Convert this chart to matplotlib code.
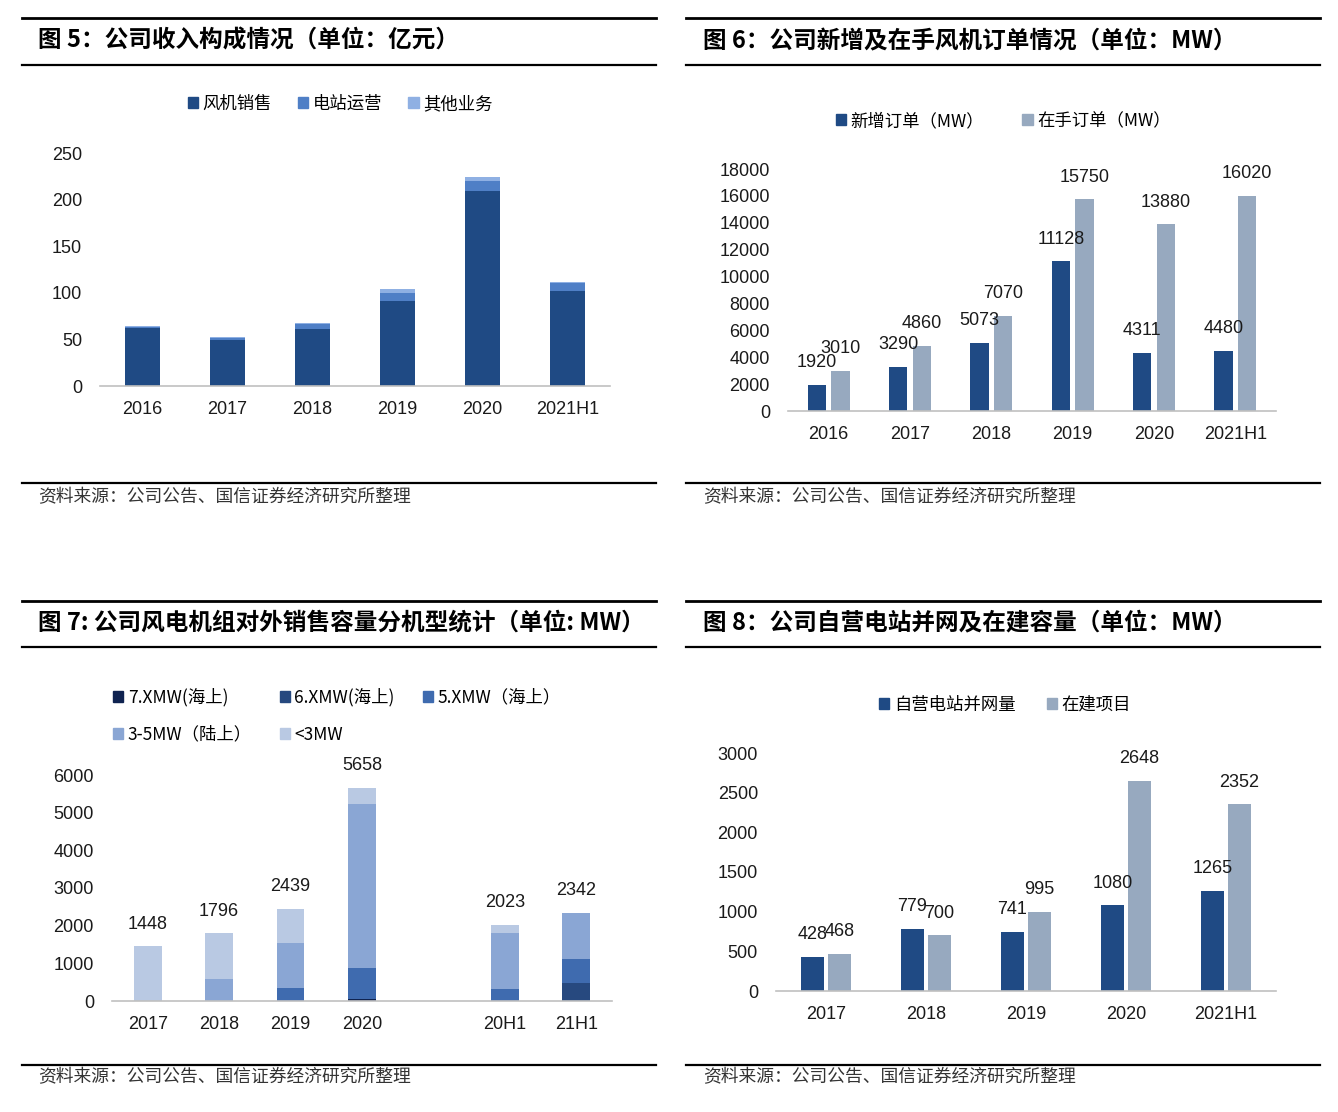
import numpy as np
import matplotlib
matplotlib.use("Agg")
import matplotlib.pyplot as plt
from matplotlib.lines import Line2D
from matplotlib.patches import Patch

plt.rcParams['font.family'] = ['Liberation Sans', 'Noto Sans CJK SC', 'DejaVu Sans']

# ---------------- data ----------------
# Fig 5
rev_years = ["2016", "2017", "2018", "2019", "2020", "2021H1"]
rev_turbine = [62.0, 49.5, 61.0, 91.4, 209.0, 101.4]
rev_station = [1.0, 1.5, 6.0, 8.2, 10.7, 9.0]
rev_other = [1.0, 1.3, 1.0, 4.7, 5.0, 0.7]
rev_labels = ["风机销售", "电站运营", "其他业务"]

# Fig 6
ord_years = ["2016", "2017", "2018", "2019", "2020", "2021H1"]
ord_new = [1920, 3290, 5073, 11128, 4311, 4480]
ord_hand = [3010, 4860, 7070, 15750, 13880, 16020]
ord_labels = ["新增订单（MW）", "在手订单（MW）"]

# Fig 7
cap_periods = ["2017", "2018", "2019", "2020", "20H1", "21H1"]
cap_7x = [0, 0, 0, 50, 0, 0]
cap_6x = [0, 0, 0, 0, 0, 471]
cap_5x = [0, 0, 356, 839, 311, 640]
cap_35 = [0, 578, 1182, 4329, 1493, 1231]
cap_lt3 = [1448, 1218, 901, 440, 219, 0]
cap_labels = ["7.XMW(海上)", "6.XMW(海上)", "5.XMW（海上）", "3-5MW（陆上）", "<3MW"]

# Fig 8
st_years = ["2017", "2018", "2019", "2020", "2021H1"]
st_grid = [428, 779, 741, 1080, 1265]
st_build = [468, 700, 995, 2648, 2352]
st_labels = ["自营电站并网量", "在建项目"]

titles = ["图 5：公司收入构成情况（单位：亿元）",
          "图 6：公司新增及在手风机订单情况（单位：MW）",
          "图 7: 公司风电机组对外销售容量分机型统计（单位: MW）",
          "图 8：公司自营电站并网及在建容量（单位：MW）"]
source = "资料来源：公司公告、国信证券经济研究所整理"

# ---------------- figure ----------------
W, H = 1338, 1112
fig = plt.figure(figsize=(W / 100, H / 100), dpi=100)
fig.patch.set_facecolor("white")

def fx(px):
    return px / W

def fy(py):
    return 1 - py / H

def hline(x0, x1, y, lw=1.6):
    fig.add_artist(Line2D([fx(x0), fx(x1)], [fy(y), fy(y)], color="black", lw=lw,
                          transform=fig.transFigure))

# headers / footers
for (x0, x1), (yt, yb, ys) in [
    ((22, 656), (18, 65, 483)),
    ((686, 1320), (18, 65, 483)),
    ((22, 656), (601, 647, 1065)),
    ((686, 1320), (601, 647, 1065)),
]:
    hline(x0, x1, yt, 2.0)
    hline(x0, x1, yb, 1.6)
    hline(x0, x1, ys, 1.6)

title_pos = [(38, 41), (703, 41), (38, 622), (703, 622)]
for t, (x, y) in zip(titles, title_pos):
    fig.text(fx(x), fy(y), t, fontsize=17, fontweight="heavy", va="center", ha="left",
             family=['Noto Sans CJK SC', 'DejaVu Sans'], color="black")
for (x, y) in [(38, 497), (703, 497), (38, 1077), (703, 1077)]:
    fig.text(fx(x), fy(y), source, fontsize=12.8, va="center", ha="left",
             family=['Noto Sans CJK SC', 'DejaVu Sans'], color="#333333")

def make_ax(x0, x1, y0px, ytop):
    ax = fig.add_axes([fx(x0), fy(y0px), (x1 - x0) / W, (y0px - ytop) / H])
    ax.set_facecolor("none")
    for s in ["top", "right", "left"]:
        ax.spines[s].set_visible(False)
    ax.spines["bottom"].set_color("#c0c0c0")
    ax.spines["bottom"].set_linewidth(1.2)
    ax.tick_params(axis="both", length=0, labelsize=13, colors="#1a1a1a")
    ax.tick_params(axis="x", pad=11)
    ax.tick_params(axis="y", pad=13)
    return ax

def bar_labels(ax, xs, vals):
    for x, v in zip(xs, vals):
        ax.annotate(f"{v:g}", (x, v), xytext=(0, 16), textcoords="offset points",
                    ha="center", va="center", fontsize=13, color="#1a1a1a")

leg_kw = dict(frameon=False, handlelength=0.6, handleheight=0.6,
              handletextpad=0.25, prop={'family': ['Noto Sans CJK SC', 'DejaVu Sans'], 'size': 12.5})

# ---------- Fig 5 ----------
ax5 = make_ax(100, 610, 386, 153)
x = np.arange(len(rev_years))
c5 = ["#1F4A84", "#4F7FC6", "#8FB0E3"]
b1 = np.array(rev_turbine)
b2 = np.array(rev_station)
b3 = np.array(rev_other)
ax5.bar(x, b1, 0.41, color=c5[0])
ax5.bar(x, b2, 0.41, bottom=b1, color=c5[1])
ax5.bar(x, b3, 0.41, bottom=b1 + b2, color=c5[2])
ax5.set_xlim(-0.5, len(x) - 0.5)
ax5.set_ylim(0, 250)
ax5.set_yticks(np.arange(0, 251, 50))
ax5.set_xticks(x)
ax5.set_xticklabels(rev_years)
h5 = [Patch(color=c) for c in c5]
fig.legend(h5, rev_labels, loc="center", bbox_to_anchor=(fx(340), fy(104)), ncol=3,
           columnspacing=1.5, **leg_kw)

# ---------- Fig 6 ----------
ax6 = make_ax(788, 1276, 411, 169)
x = np.arange(len(ord_years))
w = 0.225
off = 0.145
c6 = ["#1F4A84", "#97A9BF"]
ax6.bar(x - off, ord_new, w, color=c6[0])
ax6.bar(x + off, ord_hand, w, color=c6[1])
bar_labels(ax6, x - off, ord_new)
bar_labels(ax6, x + off, ord_hand)
ax6.set_xlim(-0.5, len(x) - 0.5)
ax6.set_ylim(0, 18000)
ax6.set_yticks(np.arange(0, 18001, 2000))
ax6.set_xticks(x)
ax6.set_xticklabels(ord_years)
h6 = [Patch(color=c) for c in c6]
fig.legend(h6, ord_labels, loc="center", bbox_to_anchor=(fx(1003), fy(121)), ncol=2,
           columnspacing=2.2, **leg_kw)

# ---------- Fig 7 ----------
ax7 = make_ax(112, 612, 1001, 775)
idx = np.arange(len(cap_periods))
x7 = idx + (idx >= 4)  # gap between annual and half-year groups
c7 = ["#0F2350", "#27497F", "#3F6BAF", "#8AA6D4", "#B9C9E3"]
series = [cap_7x, cap_6x, cap_5x, cap_35, cap_lt3]
bottom = np.zeros(len(cap_periods))
for s, c in zip(series, c7):
    s = np.array(s, dtype=float)
    ax7.bar(x7, s, 0.39, bottom=bottom, color=c)
    bottom = bottom + s
bar_labels(ax7, x7, bottom.astype(int))
ax7.set_xlim(-0.5, x7[-1] + 0.5)
ax7.set_ylim(0, 6000)
ax7.set_yticks(np.arange(0, 6001, 1000))
ax7.set_xticks(x7)
ax7.set_xticklabels(cap_periods)
h7 = [Patch(color=c) for c in c7]
order = [0, 3, 1, 4, 2]
fig.legend([h7[i] for i in order], [cap_labels[i] for i in order], loc="upper left",
           bbox_to_anchor=(fx(106), fy(681)), ncol=3, columnspacing=1.6,
           labelspacing=1.1, borderaxespad=0, **leg_kw)

# ---------- Fig 8 ----------
ax8 = make_ax(776, 1276, 991, 753)
x = np.arange(len(st_years))
w8 = 0.225
off8 = 0.135
ax8.bar(x - off8, st_grid, w8, color=c6[0])
ax8.bar(x + off8, st_build, w8, color=c6[1])
bar_labels(ax8, x - off8, st_grid)
bar_labels(ax8, x + off8, st_build)
ax8.set_xlim(-0.5, len(x) - 0.5)
ax8.set_ylim(0, 3000)
ax8.set_yticks(np.arange(0, 3001, 500))
ax8.set_xticks(x)
ax8.set_xticklabels(st_years)
fig.legend(h6, st_labels, loc="center", bbox_to_anchor=(fx(1005), fy(705)), ncol=2,
           columnspacing=1.8, **leg_kw)

fig.savefig("out.png", dpi=100, facecolor="white")
